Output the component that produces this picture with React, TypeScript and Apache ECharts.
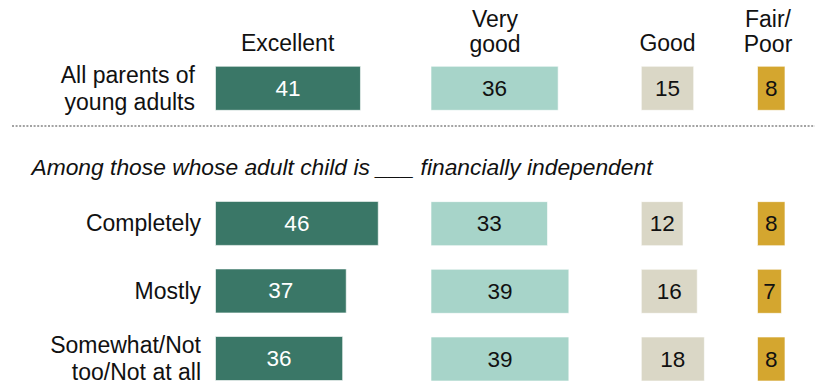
import { useEffect, useRef } from "react";
import * as echarts from "echarts";

const categories = [
  "All parents of\nyoung adults",
  "",
  "Completely",
  "Mostly",
  "Somewhat/Not\ntoo/Not at all",
];
const columnNames = ["Excellent", "Very\ngood", "Good", "Fair/\nPoor"];
const excellent = [41, null, 46, 37, 36];
const veryGood = [36, null, 33, 39, 39];
const good = [15, null, 12, 16, 18];
const fairPoor = [8, null, 8, 7, 8];
const axisMax = [100, 100, 40, 15];
const subtitle = "Among those whose adult child is ___ financially independent";

const FONT = "'Liberation Sans', Arial, sans-serif";
const PX_PER_UNIT = 3.56;
const colLeft = [215, 430.5, 640.8, 757];
const colHeaderX = [287.6, 495, 667.5, 768];
const colColors = ["#3a7767", "#a7d4c9", "#dad7c6", "#d4a62f"];
const labelColors = ["#ffffff", "#111111", "#111111", "#111111"];
const seriesData = [excellent, veryGood, good, fairPoor];

export default function App() {
  const ref = useRef<HTMLDivElement>(null);
  useEffect(() => {
    if (!ref.current) return;
    const chart = echarts.init(ref.current, null, { renderer: "svg" });
    const grids = colLeft.map((l, i) => ({
      left: l,
      width: axisMax[i] * PX_PER_UNIT,
      top: 88.3,
      height: 270.7,
      containLabel: false,
    }));
    const xAxes = colLeft.map((_, i) => ({
      type: "value",
      gridIndex: i,
      min: 0,
      max: axisMax[i],
      show: false,
    }));
    const yAxes = colLeft.map((_, i) => ({
      type: "category",
      gridIndex: i,
      inverse: true,
      boundaryGap: false,
      show: i === 0,
      data: categories.map((c, k) =>
        k === 0 ? { value: c, textStyle: { padding: [0, 6, 6, 0] } } : c
      ),
      axisLine: { show: false },
      axisTick: { show: false },
      splitLine: { show: false },
      axisLabel: {
        show: i === 0,
        margin: 14,
        fontSize: 23,
        lineHeight: 26.5,
        color: "#111",
        fontFamily: FONT,
        align: "right",
      },
    }));
    const series = seriesData.map((d, i) => ({
      type: "bar",
      xAxisIndex: i,
      yAxisIndex: i,
      data: d.map((v) => (v === null ? "-" : v)),
      barWidth: 45,
      itemStyle: {
        color: colColors[i],
        borderColor: "rgba(255,255,255,0.6)",
        borderWidth: 1,
      },
      label: {
        show: true,
        position: "inside",
        color: labelColors[i],
        fontSize: 22.5,
        fontFamily: FONT,
        formatter: "{c}",
      },
      silent: true,
    }));
    const graphic: any[] = columnNames.map((name, i) => ({
      type: "text",
      x: colHeaderX[i],
      y: name.includes("\n") ? 31.5 : 42.5,
      style: {
        text: name,
        fill: "#111",
        font: `23px ${FONT}`,
        lineHeight: 25,
        textAlign: "center",
        textVerticalAlign: "middle",
      },
    }));
    graphic.push({
      type: "line",
      shape: { x1: 12, y1: 126, x2: 815, y2: 126 },
      style: { stroke: "#a3a3a3", lineWidth: 2, lineDash: [2, 1.6] },
    });
    graphic.push({
      type: "text",
      x: 31.5,
      y: 166.5,
      style: {
        text: subtitle,
        fill: "#111",
        font: `italic 22.8px ${FONT}`,
        textAlign: "left",
        textVerticalAlign: "middle",
      },
    });
    chart.setOption({
      animation: false,
      grid: grids,
      xAxis: xAxes,
      yAxis: yAxes,
      series,
      graphic,
    } as any);
    return () => chart.dispose();
  }, []);
  return (
    <div
      ref={ref}
      style={{ position: "absolute", left: 0, top: 0, width: 817, height: 385 }}
    />
  );
}
